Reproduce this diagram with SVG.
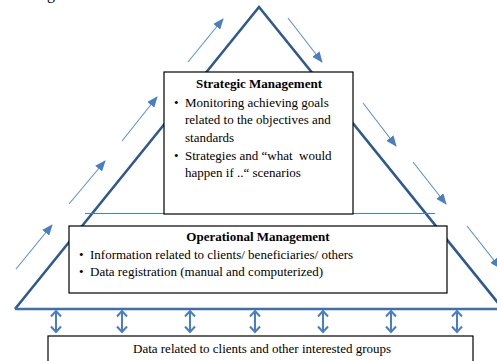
<svg xmlns="http://www.w3.org/2000/svg" width="497" height="361" viewBox="0 0 497 361">
<style>
.box{fill:#fff;stroke:#000;stroke-width:1.2}
.t{font-family:"Liberation Serif","Times New Roman",serif;font-size:13px;fill:#000}
.b{font-weight:bold;text-anchor:middle}
.pre{white-space:pre}
.flow{stroke:#5B8FD6;stroke-width:1.1;fill:none;marker-end:url(#fh)}
.dbl{stroke:#4A7EC4;stroke-width:2;fill:none}
</style>
<defs>
<marker id="fh" markerUnits="userSpaceOnUse" markerWidth="11" markerHeight="9" refX="10" refY="4.5" orient="auto">
<path d="M0,0 L11,4.5 L0,9 z" fill="#4A7EC4"/>
</marker>
<path id="dblarrow" d="M0,1 V22 M-5,6.5 L0,1 L5,6.5 M-5,16.5 L0,22 L5,16.5"/>
</defs>
<text class="t" x="47" y="-1" style="font-size:16px">g</text>
<g id="triangle">
<path d="M15,309 L259,7 L503,309" fill="none" stroke="#2F5A8F" stroke-width="2.6" stroke-linejoin="miter"/>
<line x1="15" y1="309" x2="497" y2="309" stroke="#3F6FB0" stroke-width="2.4"/>
<line x1="85" y1="213.5" x2="435" y2="213.5" stroke="#4A7EC4" stroke-width="1"/>
</g>
<g id="connectors">
<line class="flow" x1="188" y1="62" x2="223" y2="19"/>
<line class="flow" x1="122" y1="141" x2="157" y2="97"/>
<line class="flow" x1="69" y1="204" x2="105" y2="161"/>
<line class="flow" x1="16" y1="269" x2="52" y2="225"/>
<line class="flow" x1="288" y1="18" x2="322" y2="62"/>
<line class="flow" x1="363" y1="103" x2="396" y2="146"/>
<line class="flow" x1="413" y1="162" x2="446" y2="204"/>
<line class="flow" x1="467" y1="226" x2="500" y2="268"/>
<use class="dbl" href="#dblarrow" x="56" y="310"/>
<use class="dbl" href="#dblarrow" x="122" y="310"/>
<use class="dbl" href="#dblarrow" x="190" y="310"/>
<use class="dbl" href="#dblarrow" x="255" y="310"/>
<use class="dbl" href="#dblarrow" x="323" y="310"/>
<use class="dbl" href="#dblarrow" x="391" y="310"/>
<use class="dbl" href="#dblarrow" x="457" y="310"/>
</g>
<g id="strategic">
<rect class="box" x="164" y="72" width="189" height="142"/>
<text class="t b" x="259" y="88">Strategic Management</text>
<text class="t" x="174" y="107">•</text>
<text class="t" x="185" y="107">Monitoring achieving goals</text>
<text class="t" x="185" y="124">related to the objectives and</text>
<text class="t" x="185" y="142">standards</text>
<text class="t" x="174" y="160">•</text>
<text class="t pre" x="185" y="160">Strategies and “what  would</text>
<text class="t" x="185" y="177">happen if ..“ scenarios</text>
</g>
<g id="operational">
<rect class="box" x="69" y="226" width="378" height="67"/>
<text class="t b" x="258" y="241">Operational Management</text>
<text class="t" x="79" y="259">•</text>
<text class="t" x="90" y="259">Information related to clients/ beneficiaries/ others</text>
<text class="t" x="79" y="276">•</text>
<text class="t" x="90" y="276">Data registration (manual and computerized)</text>
</g>
<g id="data">
<rect class="box" x="48" y="336" width="425" height="40"/>
<text class="t" x="133" y="353">Data related to clients and other interested groups</text>
</g>
</svg>
